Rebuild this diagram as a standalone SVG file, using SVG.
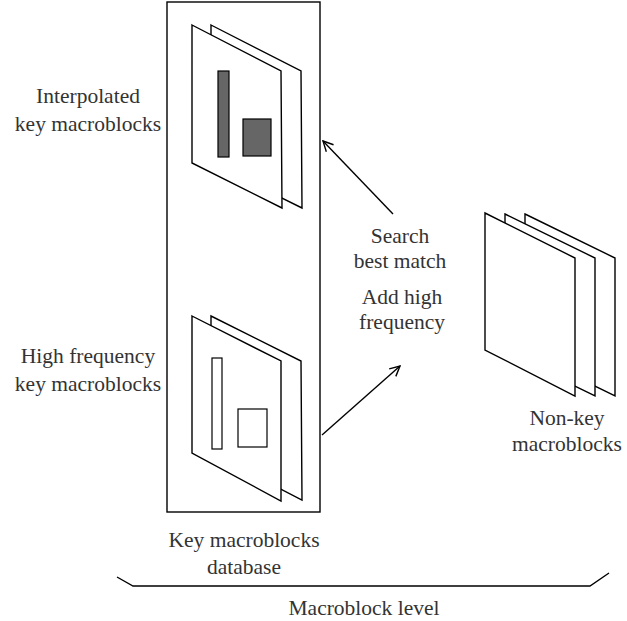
<svg xmlns="http://www.w3.org/2000/svg" width="627" height="621" viewBox="0 0 627 621">
<defs>
<style>
.pg{fill:#fff;stroke:#000;stroke-width:1.4;stroke-linejoin:miter}
.ln{fill:none;stroke:#000;stroke-width:1.4}
.t{font-family:"Liberation Serif","Times New Roman",serif;font-size:21.5px;fill:#333;text-anchor:middle}
</style>
<marker id="ah" markerWidth="12" markerHeight="12" refX="11" refY="6" orient="auto" markerUnits="userSpaceOnUse">
<path d="M1,1 L11,6 L1,11" fill="none" stroke="#000" stroke-width="1.4"/>
</marker>
</defs>
<rect width="627" height="621" fill="#fff"/>
<g id="database">
<rect x="167" y="2" width="153" height="510" class="ln"/>
</g>
<g id="interpolated-blocks">
<polygon class="pg" points="211,25 301,71 302,208 211,163"/>
<polygon class="pg" points="192,25 281,71 282,208 192,163"/>
<rect x="218" y="71" width="11" height="86" fill="#666" stroke="#000" stroke-width="1.2"/>
<rect x="243" y="119" width="28" height="37" fill="#666" stroke="#000" stroke-width="1.2"/>
</g>
<g id="highfreq-blocks">
<polygon class="pg" points="211,316 301,361 302,500 211,453"/>
<polygon class="pg" points="192,316 281,361 281,501 192,453"/>
<rect x="212" y="358" width="10" height="91" fill="#fff" stroke="#000" stroke-width="1.2"/>
<rect x="238" y="409" width="29" height="38" fill="#fff" stroke="#000" stroke-width="1.2"/>
</g>
<g id="nonkey-blocks">
<polygon class="pg" points="525,214 615,258 615,396 525,352"/>
<polygon class="pg" points="505,214 595,258 595,396 505,352"/>
<polygon class="pg" points="485,213 575,258 575,396 485,350"/>
</g>
<g id="connectors">
<line class="ln" x1="393" y1="214" x2="323" y2="141" marker-end="url(#ah)"/>
<line class="ln" x1="322" y1="435" x2="400" y2="366" marker-end="url(#ah)"/>
<polyline class="ln" stroke-width="2" points="117,577 133,586 590,586 609,573"/>
</g>
<g id="labels">
<text class="t" x="88" y="103">Interpolated</text>
<text class="t" x="88" y="131">key macroblocks</text>
<text class="t" x="88" y="363">High frequency</text>
<text class="t" x="88" y="391">key macroblocks</text>
<text class="t" x="400" y="243">Search</text>
<text class="t" x="400" y="268">best match</text>
<text class="t" x="402" y="304">Add high</text>
<text class="t" x="402" y="329">frequency</text>
<text class="t" x="567" y="425">Non-key</text>
<text class="t" x="567" y="451">macroblocks</text>
<text class="t" x="244" y="547">Key macroblocks</text>
<text class="t" x="244" y="574">database</text>
<text class="t" x="364" y="615">Macroblock level</text>
</g>
</svg>
